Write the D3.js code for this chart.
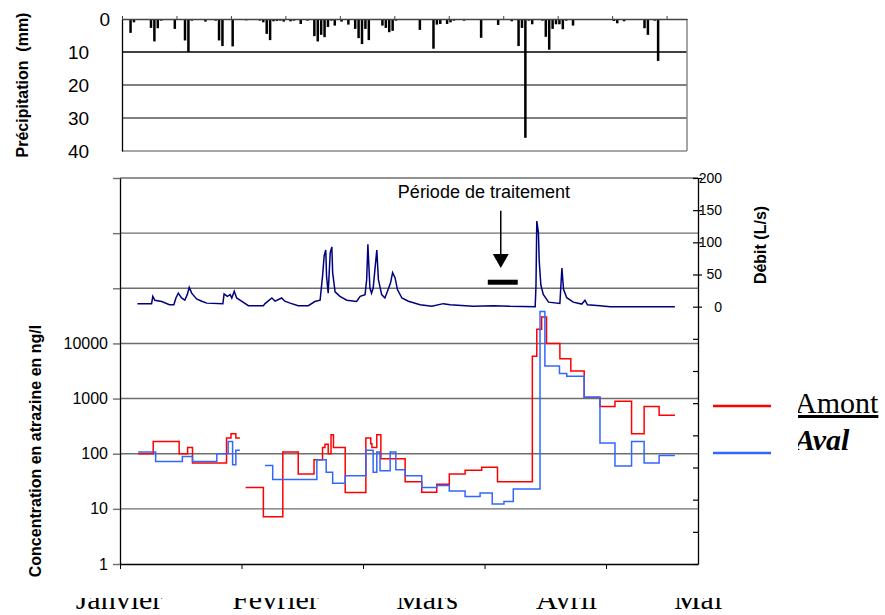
<!DOCTYPE html>
<html>
<head>
<meta charset="utf-8">
<script src="https://cdn.jsdelivr.net/npm/d3@7"></script>
<style>
body { margin: 0; background: #fff; }
svg { display: block; font-family: "Liberation Sans", Arial, sans-serif; }
</style>
</head>
<body>
<svg id="chart" width="885" height="615"></svg>
<script>
// precipitation: [day index, mm]
var precipitation = [
    [2, 4.2], [3, 1], [4, 0.3], [6, 0.3], [8, 2.7], [9, 6.8], [10, 2.8], [11, 0.5],
    [15, 3], [18, 6.5], [19, 10], [20, 0.5], [24, 0.8], [26, 0.3], [27, 0.5], [28, 6.5],
    [29, 8.2], [32, 8.3], [36, 0.4], [40, 0.5], [41, 1], [42, 4.5], [43, 6.4], [44, 0.7],
    [45, 0.6], [46, 0.5], [47, 0.8], [49, 0.7], [50, 0.5], [52, 1.5], [54, 0.5], [56, 5.2],
    [57, 6.8], [58, 4.8], [59, 5.5], [60, 2.4], [61, 0.5], [62, 2], [64, 0.8], [66, 1.7],
    [67, 0.3], [68, 3], [69, 5.8], [70, 7.6], [71, 3], [72, 6.4], [74, 0.3], [76, 2],
    [77, 2.7], [78, 4], [79, 3.6], [80, 0.5], [87, 3.3], [91, 9], [92, 1.7], [93, 1.5],
    [95, 1.5], [96, 1], [97, 0.5], [100, 0.5], [105, 5.7], [110, 1.8], [114, 0.7], [116, 8.2],
    [117, 2.7], [118, 36], [119, 0.5], [120, 1.6], [123, 0.5], [124, 5.4], [125, 9.3], [126, 3],
    [127, 1.6], [128, 1.6], [129, 3.1], [130, 0.5], [132, 2], [144, 0.6], [145, 1.3], [147, 0.7],
    [153, 2.8], [154, 4.8], [156, 0.5], [157, 12.7], [160, 0.3]
]

// debit: [day, L/s]
var discharge = [
    [4.3, 4.7], [7.8, 4.7], [8.1, 16], [8.6, 10], [10.3, 8], [12.2, 3], [13.3, 3], [13.8, 13.5],
    [14.4, 21], [15.2, 13.5], [16.0, 10], [16.6, 18.7], [17.1, 30], [17.7, 21], [18.9, 12], [20.2, 8.5],
    [21.4, 5.5], [25.4, 4.7], [25.7, 20], [26.5, 16], [27.2, 18.7], [27.6, 13.5], [28.2, 24], [28.8, 13.5],
    [30.0, 8.5], [31.7, 1.6], [35.4, 1.6], [35.8, 4.7], [37.5, 13.5], [38.3, 8.5], [39.9, 13.5], [40.7, 8.5],
    [42.0, 5.5], [44.0, 1.6], [46.5, 1.6], [48.1, 8], [49.4, 10], [50.0, 47], [50.4, 79], [50.8, 88],
    [51.0, 47], [51.4, 21], [51.9, 84], [52.3, 93], [52.5, 53], [53.1, 23], [54.3, 16], [56.0, 10],
    [58.4, 8], [59.3, 16], [60.5, 18.7], [60.9, 42], [61.2, 97], [61.7, 29], [62.1, 21], [62.5, 29],
    [63.4, 88], [63.8, 42], [64.6, 18.7], [65.4, 13.5], [66.2, 26.6], [66.8, 37], [67.3, 53], [67.9, 45],
    [68.5, 26.6], [69.6, 13.5], [71.2, 8.5], [74.1, 3], [77.0, 0.5], [79.8, 4.7], [81.5, 3], [87.2, 0.5],
    [92.2, 1.5], [96.3, 0.5], [102.5, 0], [102.7, 32], [102.9, 133], [103.3, 115], [103.5, 71], [103.9, 34],
    [104.5, 19], [105.8, 7], [108.6, 5], [109.1, 60], [109.5, 27], [110.3, 14], [111.9, 7], [114.0, 4],
    [114.8, 10], [115.4, 3], [118.5, 1.5], [121.0, 0], [137.0, 0]
]

// atrazine ng/l, steps: [day, value] (null = no sample)
var amont = [
    [4.5, 100], [8.2, 167], [14.6, 100], [16.7, 130], [17.9, 68], [26.3, 193], [27.4, 231], [28.6, 193],
    [29.6, 193], [29.6, null], [31.0, 24.4], [35.4, 7.2], [40.2, 107], [44.0, 43], [47.9, 78], [50.0, 130],
    [50.6, 148], [51.4, 100], [52.1, 221], [52.7, 130], [55.6, 19.8], [60.7, 193], [61.9, 152], [62.2, 130],
    [63.4, 221], [64.4, 81], [70.4, 31], [74.5, 20], [78.2, 28], [81.3, 43], [85.2, 50], [89.3, 57],
    [93.2, 31], [101.8, 5880], [102.9, 18000], [104.1, 30000], [105.3, 10000], [108.6, 5260], [111.3, 3160], [114.6, 1060],
    [118.5, 720], [122.2, 890], [126.3, 231], [129.4, 720], [133.1, 500], [137.0, 500]
]

var aval = [
    [4.5, 107], [8.8, 72], [15.4, 89], [17.9, 72], [23.9, 100], [26.7, 167], [27.8, 63], [28.6, 115],
    [29.6, 115], [29.6, null], [35.8, 61], [37.7, 34], [48.6, 78], [50.9, 46], [52.5, 29], [55.6, 40],
    [60.7, 115], [62.5, 46], [63.4, 107], [64.2, 49], [66.7, 107], [68.1, 51], [70.4, 40], [74.5, 24.4],
    [78.2, 26.5], [81.3, 21], [85.2, 16.7], [88.9, 19.3], [91.9, 12.2], [94.8, 13.6], [97.1, 22.8], [103.7, 38000],
    [104.9, 3880], [108.5, 2840], [110.3, 2530], [114.6, 1060], [118.5, 156], [122.2, 60], [126.3, 167], [129.4, 68],
    [133.1, 93], [137.0, 93]
]

var precipTicks = [0, 10, 20, 30, 40];
var concTicks = [1, 10, 100, 1000, 10000, 100000, 1000000, 10000000];
var debitTicks = [-400, -350, -300, -250, -200, -150, -100, -50, 0, 50, 100, 150, 200];
var monthNames = ["Janvier", "Février", "Mars", "Avril", "Mai"];
var monthStarts = [0, 30, 60, 90, 120];
var treatment = [90.8, 98.2];
var seriesNames = ["Amont", "Aval"];

document.addEventListener('DOMContentLoaded', function () {
    DrawChart();
});

function DrawChart() {
    const svg = d3.select('#chart');
    svg.selectAll('*').remove();

    var defs = svg.append('defs');
    var pclip = defs.append('clipPath').attr('id', 'pclip');
    pclip.append('rect').attr('x', 0).attr('y', 0).attr('width', 89).attr('height', 160);
    pclip.append('rect').attr('x', 89).attr('y', 0).attr('width', 40).attr('height', 32);
    pclip.append('rect').attr('x', 116).attr('y', 0).attr('width', 15).attr('height', 160);
    defs.append('clipPath').attr('id', 'mclip').append('rect')
        .attr('x', 0).attr('y', 598).attr('width', 885).attr('height', 20);
    defs.append('clipPath').attr('id', 'lclip').append('rect')
        .attr('x', 798).attr('y', 392).attr('width', 90).attr('height', 90);

    var g = svg.append('g');

    // PRECIPITATION (top)
    var xP = d3.scaleLinear().domain([0, 166]).range([122, 687]);
    var yP = d3.scaleLinear().domain([0, 40]).range([19, 151]);

    g.selectAll('.pgrid')
        .data(precipTicks.slice(1))
        .enter().append('line')
        .attr('x1', xP(0)).attr('x2', xP(166))
        .attr('y1', function (d) { return yP(d); })
        .attr('y2', function (d) { return yP(d); })
        .attr('stroke', function (d) { return d == 10 ? '#000' : (d == 40 ? '#888' : '#555'); })
        .attr('stroke-width', 1.3);

    g.append('line')
        .attr('x1', xP(166)).attr('x2', xP(166))
        .attr('y1', yP(0)).attr('y2', yP(40))
        .attr('stroke', '#888').attr('stroke-width', 1.5);

    g.selectAll('.pbar')
        .data(precipitation)
        .enter().append('rect')
        .attr('x', function (d) { return xP(d[0]) + 0.5; })
        .attr('y', yP(0))
        .attr('width', 2.5)
        .attr('height', function (d) { return yP(d[1]) - yP(0); })
        .attr('fill', '#000');

    var topAxis = g.append('g')
        .attr('transform', 'translate(0,' + yP(0) + ')')
        .call(d3.axisTop(xP).tickValues(d3.range(0, 161, 16)).tickSize(3).tickSizeOuter(0).tickFormat(''));
    topAxis.select('.domain').attr('stroke', '#444').attr('stroke-width', 1.3);
    topAxis.selectAll('.tick line').attr('stroke', '#444');

    var leftPWrap = g.append('g').attr('clip-path', 'url(#pclip)');
    var leftP = leftPWrap.append('g')
        .attr('transform', 'translate(' + xP(0) + ',0)')
        .call(d3.axisLeft(yP).tickValues(precipTicks).tickSize(0).tickSizeOuter(0).tickPadding(12));
    leftP.select('.domain').attr('stroke', '#000').attr('stroke-width', 1.3);
    leftP.selectAll('text')
        .style('font-size', '19px').attr('fill', '#000')
        .filter(function (d) { return d > 0; })
        .attr('x', -54).attr('text-anchor', 'start');

    g.append('text')
        .attr('transform', 'translate(28,85) rotate(-90)')
        .attr('text-anchor', 'middle')
        .style('font-size', '16px').style('font-weight', 'bold')
        .style('white-space', 'pre')
        .text('Précipitation  (mm)');

    // DEBIT + CONCENTRATION (bottom)
    var xT = d3.scaleLinear().domain([0, 142.7]).range([120, 698]);
    var yC = d3.scaleLog().domain([1, 1e7]).range([564, 178]);
    var yQ = d3.scaleLinear().domain([-400, 200]).range([564, 178]);

    g.selectAll('.cgrid')
        .data(concTicks.slice(1))
        .enter().append('line')
        .attr('x1', xT(0)).attr('x2', xT(142.7))
        .attr('y1', function (d) { return yC(d); })
        .attr('y2', function (d) { return yC(d); })
        .attr('stroke', '#6e6e6e').attr('stroke-width', 1.4);

    var leftC = g.append('g')
        .attr('transform', 'translate(' + xT(0) + ',0)')
        .call(d3.axisLeft(yC).tickValues(concTicks).tickSize(7).tickSizeOuter(0).tickPadding(5)
            .tickFormat(function (d) { return d <= 10000 ? d : ''; }));
    leftC.select('.domain').attr('stroke', '#000').attr('stroke-width', 1.3);
    leftC.selectAll('.tick line').attr('stroke', '#6e6e6e').attr('stroke-width', 1.4);
    leftC.selectAll('text').style('font-size', '16px').attr('fill', '#000');

    var rightQ = g.append('g')
        .attr('transform', 'translate(' + xT(142.7) + ',0)')
        .call(d3.axisRight(yQ).tickValues(debitTicks).tickSize(0).tickSizeOuter(0)
            .tickFormat(function (d) { return d >= 0 ? d : ''; }));
    rightQ.select('.domain').attr('stroke', '#000').attr('stroke-width', 1.3);
    rightQ.selectAll('.tick line')
        .attr('x1', -5)
        .attr('x2', function (d) { return d >= 0 ? 4 : 0; })
        .attr('stroke', '#000').attr('stroke-width', 1.2);
    rightQ.selectAll('text')
        .attr('x', 24).attr('text-anchor', 'end')
        .style('font-size', '14px').attr('fill', '#000');

    var bottomA = g.append('g')
        .attr('transform', 'translate(0,' + yC(1) + ')')
        .call(d3.axisBottom(xT).tickValues(monthStarts).tickSize(5).tickSizeOuter(0).tickFormat(''));
    bottomA.select('.domain').attr('stroke', '#000').attr('stroke-width', 1.3);
    bottomA.selectAll('.tick line').attr('stroke', '#000');

    // month labels (cut at top like the original)
    var monthNudge = [-1, 34, 64, 82, 92];
    g.append('g').attr('clip-path', 'url(#mclip)')
        .selectAll('text')
        .data(monthNames)
        .enter().append('text')
        .attr('x', function (d, i) { return xT(monthStarts[i]) + monthNudge[i]; })
        .attr('y', 609)
        .attr('text-anchor', 'middle')
        .style('font-family', '"Liberation Serif", "Times New Roman", serif')
        .style('font-size', '30px')
        .text(function (d) { return d; });

    // discharge
    var qLine = d3.line()
        .x(function (d) { return xT(d[0]); })
        .y(function (d) { return yQ(d[1]); });
    g.append('path')
        .datum(discharge)
        .attr('d', qLine)
        .attr('fill', 'none')
        .attr('stroke', '#000080')
        .attr('stroke-width', 1.5);

    // concentrations
    var cLine = d3.line()
        .defined(function (d) { return d[1] != null; })
        .curve(d3.curveStepAfter)
        .x(function (d) { return xT(d[0]); })
        .y(function (d) { return yC(d[1]); });
    g.append('path').datum(amont).attr('d', cLine)
        .attr('fill', 'none').attr('stroke', '#ff0000').attr('stroke-width', 1.5);
    g.append('path').datum(aval).attr('d', cLine)
        .attr('fill', 'none').attr('stroke', '#3366ff').attr('stroke-width', 1.5);

    // treatment annotation
    var tMid = (treatment[0] + treatment[1]) / 2;
    g.append('line')
        .attr('x1', xT(treatment[0])).attr('x2', xT(treatment[1]))
        .attr('y1', yQ(38)).attr('y2', yQ(38))
        .attr('stroke', '#000').attr('stroke-width', 5);
    g.append('line')
        .attr('x1', xT(tMid) - 2).attr('x2', xT(tMid) - 2)
        .attr('y1', yQ(149)).attr('y2', yQ(80))
        .attr('stroke', '#000').attr('stroke-width', 1.5);
    g.append('path')
        .attr('d', 'M' + (xT(tMid) - 10) + ',' + yQ(82) + 'L' + (xT(tMid) + 6) + ',' + yQ(82) +
            'L' + (xT(tMid) - 2) + ',' + yQ(60) + 'Z')
        .attr('fill', '#000');
    g.append('text')
        .attr('x', xT(68.6)).attr('y', yQ(169))
        .style('font-size', '18px')
        .text('Période de traitement');

    // axis titles
    g.append('text')
        .attr('transform', 'translate(41,451) rotate(-90)')
        .attr('text-anchor', 'middle')
        .style('font-size', '16px').style('font-weight', 'bold')
        .text('Concentration en atrazine en ng/l');
    g.append('text')
        .attr('transform', 'translate(766,245) rotate(-90)')
        .attr('text-anchor', 'middle')
        .style('font-size', '16px').style('font-weight', 'bold')
        .text('Débit (L/s)');

    // legend
    var legColors = ['#ff0000', '#3366ff'];
    var legY = [406, 453];
    g.selectAll('.legline')
        .data(seriesNames)
        .enter().append('line')
        .attr('x1', 713).attr('x2', 771)
        .attr('y1', function (d, i) { return legY[i]; })
        .attr('y2', function (d, i) { return legY[i]; })
        .attr('stroke', function (d, i) { return legColors[i]; })
        .attr('stroke-width', 2.5);
    var legText = g.append('g').attr('clip-path', 'url(#lclip)');
    legText.append('text')
        .attr('x', 795).attr('y', 413)
        .style('font-family', '"Liberation Serif", "Times New Roman", serif')
        .style('font-size', '30px')
        .style('text-decoration', 'underline')
        .text(seriesNames[0]);
    legText.append('text')
        .attr('x', 795).attr('y', 450)
        .style('font-family', '"Liberation Serif", "Times New Roman", serif')
        .style('font-size', '30px')
        .style('font-weight', 'bold').style('font-style', 'italic')
        .text(seriesNames[1]);
}
</script>
</body>
</html>
